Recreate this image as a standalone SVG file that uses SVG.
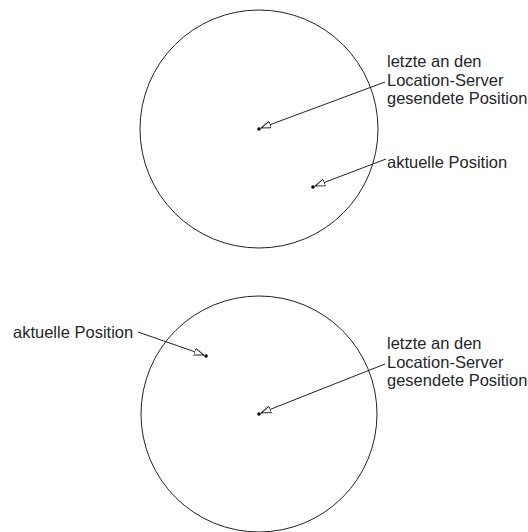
<svg xmlns="http://www.w3.org/2000/svg" width="528" height="532" viewBox="0 0 528 532">
<style>
.c{fill:none;stroke:#222;stroke-width:1}
.l{fill:none;stroke:#222;stroke-width:1;marker-end:url(#a)}
.d{fill:#000}
text{font-family:"Liberation Sans",Arial,sans-serif;font-size:16.5px;fill:#262626}
</style>
<defs>
<marker id="a" viewBox="0 0 10 8" refX="10" refY="4" markerWidth="10" markerHeight="8" markerUnits="userSpaceOnUse" orient="auto">
<path d="M0,0.5 L10,4 L0,7.5 Z" fill="#fff" stroke="#222" stroke-width="1"/>
</marker>
</defs>
<g id="circle1"><circle class="c" cx="259" cy="129" r="119"/></g>
<g id="circle2"><circle class="c" cx="259" cy="414" r="118"/></g>
<g id="dots">
<circle class="d" cx="259" cy="129" r="1.8"/>
<circle class="d" cx="313" cy="187" r="1.8"/>
<circle class="d" cx="259" cy="414" r="1.8"/>
<circle class="d" cx="206" cy="356" r="1.8"/>
</g>
<g id="connectors">
<line class="l" x1="385" y1="82" x2="261" y2="128"/>
<line class="l" x1="386" y1="159" x2="315" y2="186"/>
<line class="l" x1="385" y1="364" x2="261" y2="413"/>
<line class="l" x1="138" y1="332" x2="204" y2="355"/>
</g>
<g id="label1">
<text x="387" y="67">letzte an den</text>
<text x="387" y="86">Location-Server</text>
<text x="387" y="104">gesendete Position</text>
</g>
<g id="label2"><text x="387" y="168">aktuelle Position</text></g>
<g id="label3">
<text x="387" y="349">letzte an den</text>
<text x="387" y="368">Location-Server</text>
<text x="387" y="386">gesendete Position</text>
</g>
<g id="label4"><text x="13" y="338">aktuelle Position</text></g>
</svg>
